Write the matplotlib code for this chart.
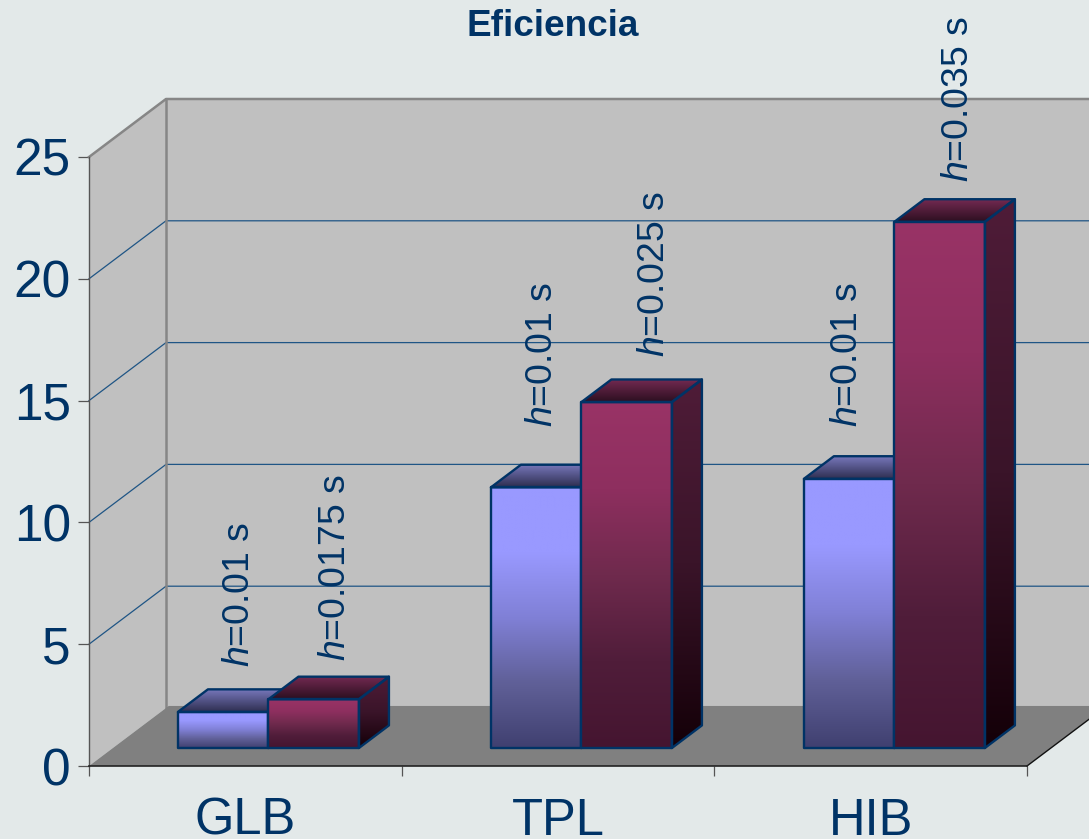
# -*- coding: utf-8 -*-
import numpy as np
import matplotlib.pyplot as plt
from matplotlib.colors import LinearSegmentedColormap
from matplotlib.patches import Polygon

plt.rcParams['font.family'] = ['Liberation Sans', 'DejaVu Sans']
plt.rcParams['mathtext.fontset'] = 'custom'
plt.rcParams['mathtext.it'] = 'Liberation Sans:italic'
plt.rcParams['mathtext.rm'] = 'Liberation Sans'

### Donnees
categories = ['GLB', 'TPL', 'HIB']
serie_bleue = [1.48, 10.7, 11.05]
serie_rouge = [2.0, 14.2, 21.6]
labels_bleus = ['0.01', '0.01', '0.01']
labels_rouges = ['0.0175', '0.025', '0.035']
y_ticks = [0, 5, 10, 15, 20, 25]

BLEU = '#003366'
FOND = '#E3E9E9'

# decalage du fond de la boite 3D, en unites de donnees
W, H = 1089, 839
PX_X = 938 / 3
PX_Y = 609 / 25
DX = 77 / PX_X
DY = 58 / PX_Y

fig = plt.figure(figsize=(W / 100, H / 100), dpi=100, facecolor=FOND)
ax = fig.add_axes([89 / W, (H - 766) / H, 938 / W, 609 / H])
ax.set_xlim(0, 3)
ax.set_ylim(0, 25)
ax.patch.set_visible(False)


def proj(x, v, d):
    return (x + d * DX, v + d * DY)


def face(pts, couleurs, z):
    # polygone rempli par un degrade vertical
    pts = np.array(pts)
    cmap = LinearSegmentedColormap.from_list('g', couleurs)
    grad = np.linspace(0, 1, 256).reshape(-1, 1)
    ext = [pts[:, 0].min(), pts[:, 0].max(), pts[:, 1].min(), pts[:, 1].max()]
    im = ax.imshow(grad, cmap=cmap, extent=ext, origin='upper', aspect='auto',
                   zorder=z, interpolation='bilinear')
    poly = Polygon(pts, closed=True, transform=ax.transData, facecolor='none',
                   edgecolor=BLEU, linewidth=1.7, joinstyle='round', zorder=z + 0.1,
                   clip_on=False)
    ax.add_patch(poly)
    im.set_clip_box(fig.bbox)
    im.set_clip_path(poly)


def barre(x, larg, val, front, side, top, z):
    d0, d1 = 0.31, 0.70
    face([proj(x, 0, d0), proj(x + larg, 0, d0), proj(x + larg, val, d0), proj(x, val, d0)], front, z)
    face([proj(x + larg, 0, d0), proj(x + larg, 0, d1), proj(x + larg, val, d1), proj(x + larg, val, d0)], side, z)
    face([proj(x, val, d0), proj(x + larg, val, d0), proj(x + larg, val, d1), proj(x, val, d1)], top, z)


# murs et sol
ax.add_patch(Polygon([proj(0, 0, 0), proj(0, 0, 1), proj(0, 25, 1), proj(0, 25, 0)],
                     facecolor='#C0C0C0', edgecolor='none', zorder=1, clip_on=False))
ax.add_patch(Polygon([proj(0, 0, 1), proj(3, 0, 1), proj(3, 25, 1), proj(0, 25, 1)],
                     facecolor='#C0C0C0', edgecolor='none', zorder=1, clip_on=False))
ax.add_patch(Polygon([proj(0, 0, 0), proj(3, 0, 0), proj(3, 0, 1.035), proj(0, 0, 1.035)],
                     facecolor='#808080', edgecolor='none', zorder=1.7, clip_on=False))

# grille
for v in y_ticks[1:-1]:
    pts = [proj(0, v, 0), proj(0, v, 1), proj(3, v, 1)]
    ax.plot([p[0] for p in pts], [p[1] for p in pts], color='#1F5585', lw=0.9,
            zorder=1.5, clip_on=False)

# aretes grises du haut
pts = [proj(0, 25, 0), proj(0, 25, 1), proj(3, 25, 1)]
ax.plot([p[0] for p in pts], [p[1] for p in pts], color='#868686', lw=1.8, zorder=1.6, clip_on=False)
pts = [proj(0, 0, 1), proj(0, 25, 1)]
ax.plot([p[0] for p in pts], [p[1] for p in pts], color='#868686', lw=1.8, zorder=1.6, clip_on=False)
pts = [proj(3, 0, 0), proj(3, 0, 1)]
ax.plot([p[0] for p in pts], [p[1] for p in pts], color='#111111', lw=1.0, zorder=1.8, clip_on=False)

# barres
front_b = ['#9999FF', '#9999FF', '#8080D6', '#606098', '#404070']
side_b = ['#4D2A55', '#200020']
top_b = ['#7878BC', '#2E2E50']
front_r = ['#993366', '#8E2F5F', '#6F2A4D', '#501D3A', '#451530']
side_r = ['#4F1C38', '#3A1429', '#140008']
top_r = ['#742A52', '#2C0F20']

larg = 90.5 / PX_X
x0 = [0.208, 1.209, 2.21]
for i in range(len(categories)):
    z = 3 + i * 2
    barre(x0[i], larg, serie_bleue[i], front_b, side_b, top_b, z)
    barre(x0[i] + larg, larg, serie_rouge[i], front_r, side_r, top_r, z + 1)

# etiquettes h=...
xlab_bleu = [0.481, 1.450, 2.425]
xlab_rouge = [0.788, 1.808, 2.781]
pos_bleu = [4.07, 13.92, 13.92]
pos_rouge = [4.32, 16.77, 23.97]
for i in range(len(categories)):
    ax.text(xlab_bleu[i], pos_bleu[i], r'$\mathit{h}$=' + labels_bleus[i] + ' s',
            rotation=90, ha='center', va='bottom', fontsize=26.9, color=BLEU, zorder=20, clip_on=False)
    ax.text(xlab_rouge[i], pos_rouge[i], r'$\mathit{h}$=' + labels_rouges[i] + ' s',
            rotation=90, ha='center', va='bottom', fontsize=26.9, color=BLEU, zorder=20, clip_on=False)

# axes
for s in ['top', 'right']:
    ax.spines[s].set_visible(False)
ax.spines['left'].set_color('#555555')
ax.spines['bottom'].set_color('#222222')
ax.spines['left'].set_linewidth(1.0)
ax.spines['bottom'].set_linewidth(1.2)
ax.spines['left'].set_zorder(2)
ax.spines['bottom'].set_zorder(2)
ax.set_yticks(y_ticks)
ax.set_xticks([0, 1, 2, 3])
ax.set_xticklabels([])
ax.set_xticks([0.5, 1.5, 2.5], minor=True)
ax.set_xticklabels(categories, minor=True)
ax.tick_params(axis='y', length=8, width=0.9, color='#555555', labelsize=37, labelcolor=BLEU, pad=5)
ax.tick_params(axis='x', which='major', length=7.5, width=0.9, color='#555555')
ax.tick_params(axis='x', which='minor', length=0, labelsize=36.5, labelcolor=BLEU, pad=22)

ax.set_xlim(0, 3)
ax.set_ylim(0, 25)

fig.text(553 / W, 1 - 27 / H, 'Eficiencia', ha='center', va='center', fontsize=26.6,
         fontweight='bold', color=BLEU)

fig.savefig('out.png', dpi=100, facecolor=FOND)
